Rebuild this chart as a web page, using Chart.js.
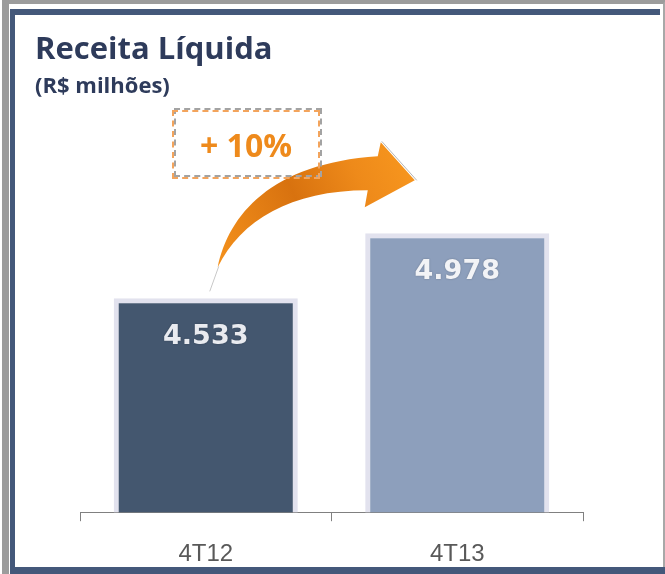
<!DOCTYPE html>
<html>
<head>
<meta charset="utf-8">
<script src="https://cdn.jsdelivr.net/npm/chart.js@4"></script>
<style>
  html, body { margin: 0; padding: 0; background: #ffffff; }
  body { width: 665px; height: 574px; position: relative; overflow: hidden; }
  #c { position: absolute; left: 0; top: 0; }
  .frame-gray { position: absolute; left: 2px; top: 0; width: 654px; height: 574px;
    border-left: 7px solid #9c9c9c; border-top: 4px solid #9c9c9c; border-right: 3px solid #a8a8a8; box-sizing: content-box; }
  .frame-blue { position: absolute; left: 10px; top: 9px; width: 645px; height: 552px;
    border-left: 5px solid #44587a; border-top: 6px solid #44587a; border-bottom: 7px solid #44587a; }
  .frame-blue-bottom { position: absolute; left: 10px; top: 567px; width: 655px; height: 7px; background: #44587a; }
  .t { position: absolute; font-family: "Open Sans", sans-serif; font-weight: 700; line-height: 1; white-space: nowrap; }
  #title { left: 35px; top: 32px; font-size: 31px; color: #2e3b5b; }
  #subtitle { left: 35px; top: 73px; font-size: 22px; color: #2e3b5b; }
  .box { position: absolute; width: 144px; height: 65px; }
  #boxGray { left: 174px; top: 108px; border: 2px dashed #a3a3a3; }
  #boxOrange { left: 172px; top: 110px; border: 2px dashed #f3a45c; }
  #growth { left: 172px; width: 148px; text-align: center; top: 129px; font-size: 32px; color: #ee8a1c; }
</style>
</head>
<body>
<canvas id="c" width="665" height="593"></canvas>
<div class="frame-gray"></div>
<div class="frame-blue"></div>
<div class="frame-blue-bottom"></div>
<div id="title" class="t">Receita Líquida</div>
<div id="subtitle" class="t">(R$ milhões)</div>
<div id="boxGray" class="box"></div>
<div id="boxOrange" class="box"></div>
<div id="growth" class="t"></div>
<script>
// ---- data ----
const categories = ['4T12', '4T13'];
const values = [4533, 4978];
const yMin = 3070;
const yMax = 5890;

const barColors = ['#44576f', '#8d9fbc'];

function fmt(v) {
  return String(v).replace(/\B(?=(\d{3})+(?!\d))/g, '.');
}

document.getElementById('growth').textContent =
  '+ ' + Math.round((values[1] / values[0] - 1) * 100) + '%';

const valueLabels = {
  id: 'valueLabels',
  afterDatasetsDraw(chart) {
    const ctx = chart.ctx;
    const meta = chart.getDatasetMeta(0);
    ctx.save();
    ctx.font = 'bold 27px "DejaVu Sans"';
    ctx.textAlign = 'center';
    ctx.textBaseline = 'middle';
    meta.data.forEach((el, i) => {
      ctx.shadowColor = 'rgba(0,0,0,0.25)';
      ctx.shadowBlur = 2;
      ctx.fillStyle = i === 0 ? '#e9ebf0' : '#f2f3f6';
      ctx.fillText(fmt(values[i]), el.x, el.y + 39);
    });
    ctx.restore();
  }
};

const arrow = {
  id: 'arrow',
  afterDatasetsDraw(chart) {
    const ctx = chart.ctx;
    const b = chart.getDatasetMeta(0).data[0];
    const ox = b.x - 205, oy = b.y - 298;
    ctx.save();
    ctx.translate(ox, oy);
    ctx.strokeStyle = '#c8c8c8';
    ctx.lineWidth = 1;
    ctx.beginPath();
    ctx.moveTo(218, 266);
    ctx.lineTo(209, 291);
    ctx.stroke();
    const g = ctx.createLinearGradient(215, 260, 414, 170);
    g.addColorStop(0, '#f4911c');
    g.addColorStop(0.45, '#d8720f');
    g.addColorStop(0.75, '#ee8a1a');
    g.addColorStop(1, '#f7961e');
    ctx.fillStyle = g;
    ctx.beginPath();
    ctx.moveTo(217, 267);
    ctx.bezierCurveTo(228, 215, 270, 163, 377, 156);
    ctx.lineTo(380, 142);
    ctx.lineTo(414, 180);
    ctx.lineTo(364, 207);
    ctx.lineTo(367, 190);
    ctx.bezierCurveTo(290, 190, 240, 220, 217, 267);
    ctx.closePath();
    ctx.fill();
    ctx.strokeStyle = 'rgba(150,150,150,0.7)';
    ctx.beginPath();
    ctx.moveTo(381, 141);
    ctx.lineTo(416, 180);
    ctx.stroke();
    ctx.restore();
  }
};

new Chart(document.getElementById('c'), {
  type: 'bar',
  data: {
    labels: categories,
    datasets: [{
      data: values,
      backgroundColor: barColors,
      borderColor: '#e2e2ee',
      borderWidth: 5,
      borderSkipped: 'start',
      categoryPercentage: 1,
      barPercentage: 0.732
    }]
  },
  options: {
    responsive: false,
    devicePixelRatio: 1,
    animation: false,
    layout: { padding: { left: 80, right: 82, top: 100, bottom: 5 } },
    plugins: { legend: { display: false }, tooltip: { enabled: false }, title: { display: false } },
    scales: {
      y: { display: false, min: yMin, max: yMax },
      x: {
        grid: { offset: true, drawOnChartArea: false, drawTicks: true, tickLength: 9, color: '#808080', lineWidth: 1 },
        border: { display: true, color: '#808080', width: 1 },
        ticks: { font: { family: 'Liberation Sans', size: 24 }, color: '#595959', padding: 19 }
      }
    }
  },
  plugins: [arrow, valueLabels]
});
</script>
</body>
</html>
